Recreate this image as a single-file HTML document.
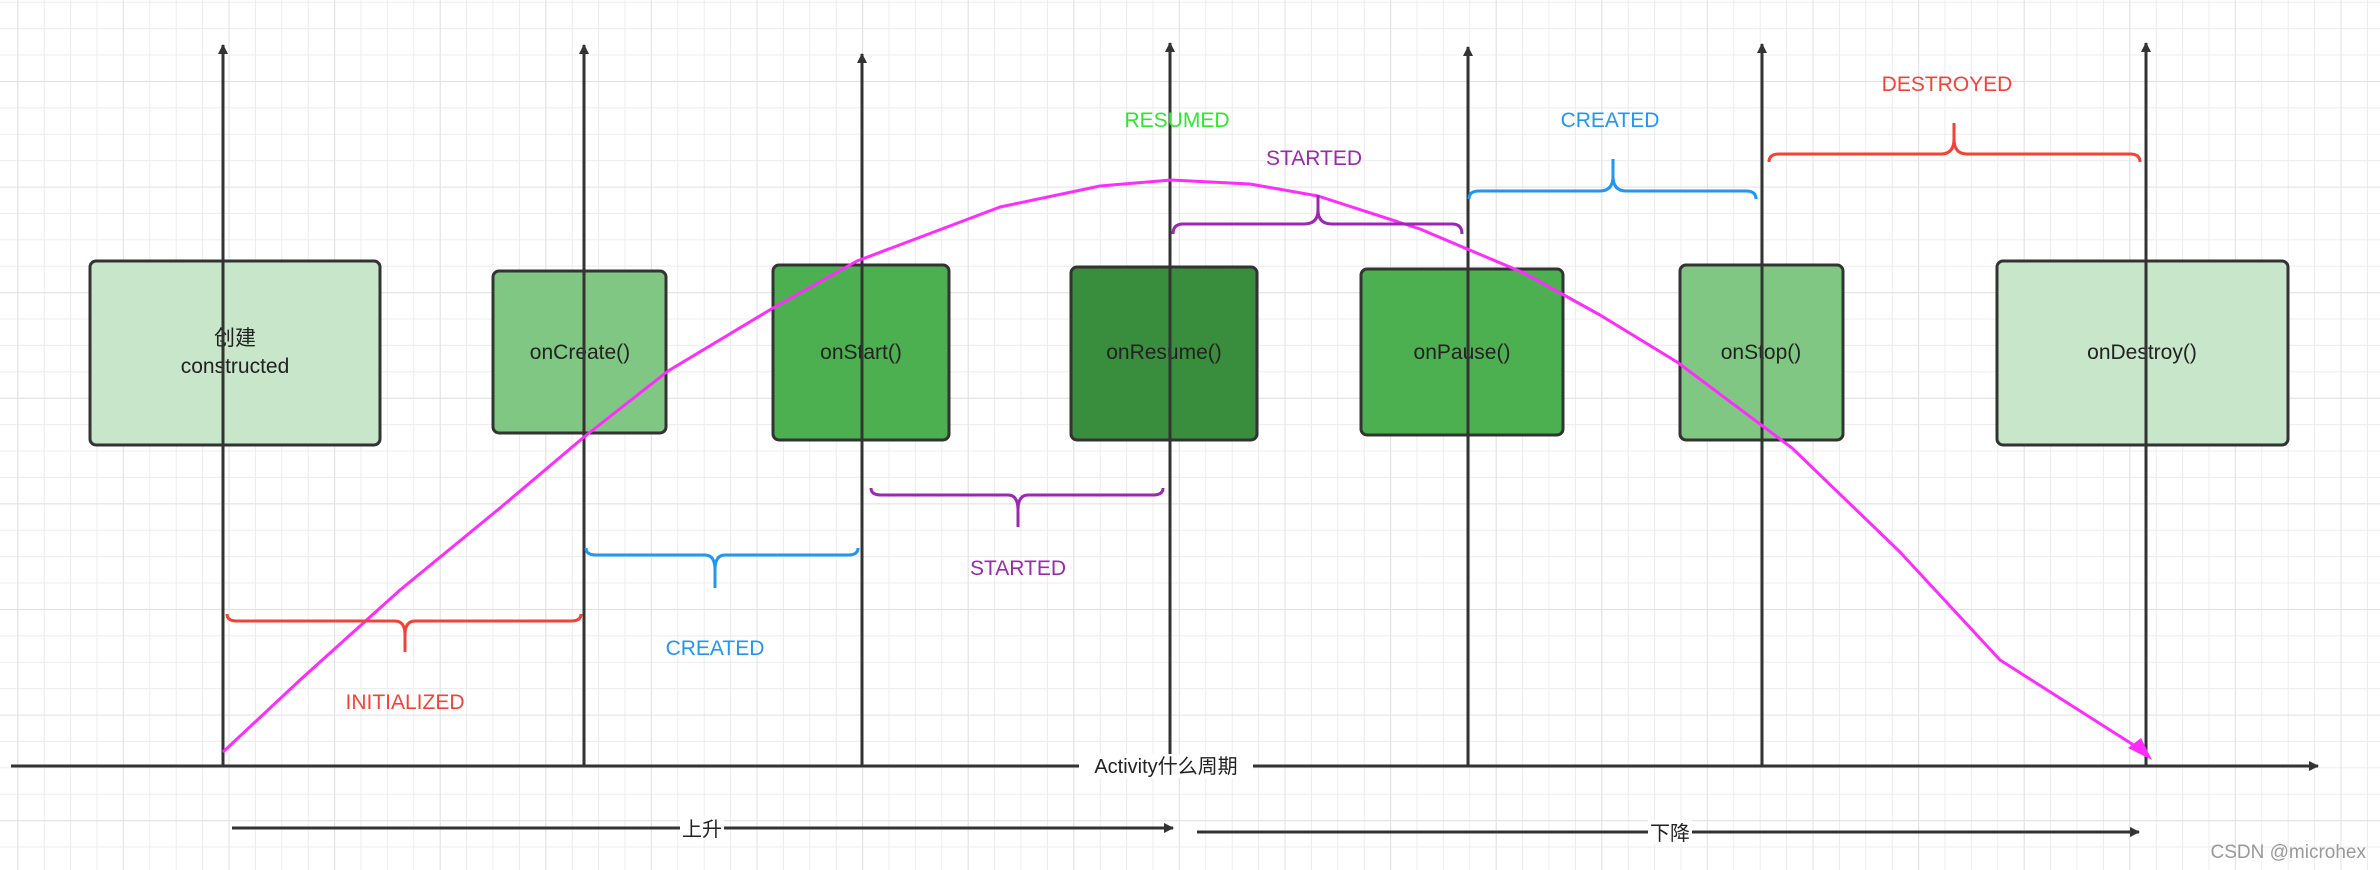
<!DOCTYPE html>
<html><head><meta charset="utf-8"><style>
html,body{margin:0;padding:0;background:#fff;}
svg{display:block}
text{font-family:"Liberation Sans","Noto Sans CJK SC",sans-serif;}
</style></head><body>
<svg width="2380" height="870" viewBox="0 0 2380 870" xmlns="http://www.w3.org/2000/svg">
<defs>
<pattern id="g" x="17.3" y="1.7" width="26.4" height="26.4" patternUnits="userSpaceOnUse">
<path d="M0,0V26.4M0,0H26.4" stroke="#ececec" stroke-width="2" fill="none"/>
</pattern>
<pattern id="G" x="122.9" y="81" width="105.6" height="105.6" patternUnits="userSpaceOnUse">
<path d="M0,0V105.6M0,0H105.6" stroke="#e2e2e2" stroke-width="2" fill="none"/>
</pattern>
<marker id="ah" markerWidth="10" markerHeight="10" refX="9" refY="5" orient="auto" markerUnits="userSpaceOnUse" viewBox="0 0 10 10">
<path d="M0,0L10,5L0,10z" fill="#333"/>
</marker>
</defs>
<rect width="2380" height="870" fill="#fff"/>
<rect width="2380" height="870" fill="url(#g)"/>
<rect width="2380" height="870" fill="url(#G)"/>

<!-- boxes -->
<g stroke="#333" stroke-width="3">
<rect x="90" y="261" width="290" height="184" rx="6" fill="#c8e6c9"/>
<rect x="493" y="271" width="173" height="162" rx="6" fill="#81c784"/>
<rect x="773" y="265" width="176" height="175" rx="6" fill="#4caf50"/>
<rect x="1071" y="267" width="186" height="173" rx="6" fill="#388e3c"/>
<rect x="1361" y="269" width="202" height="166" rx="6" fill="#4caf50"/>
<rect x="1680" y="265" width="163" height="175" rx="6" fill="#81c784"/>
<rect x="1997" y="261" width="291" height="184" rx="6" fill="#c8e6c9"/>
</g>
<g font-size="21" fill="#222" text-anchor="middle">
<text x="235" y="345">创建</text>
<text x="235" y="373">constructed</text>
<text x="580" y="359">onCreate()</text>
<text x="861" y="359">onStart()</text>
<text x="1164" y="359">onResume()</text>
<text x="1462" y="359">onPause()</text>
<text x="1761" y="359">onStop()</text>
<text x="2142" y="359">onDestroy()</text>
</g>

<!-- vertical lines -->
<g stroke="#333" stroke-width="3" marker-end="url(#ah)">
<line x1="223" y1="766" x2="223" y2="45"/>
<line x1="584" y1="766" x2="584" y2="45"/>
<line x1="862" y1="766" x2="862" y2="54"/>
<line x1="1170" y1="766" x2="1170" y2="43"/>
<line x1="1468" y1="766" x2="1468" y2="47"/>
<line x1="1762" y1="766" x2="1762" y2="44"/>
<line x1="2146" y1="766" x2="2146" y2="43"/>
</g>

<!-- magenta curve -->
<polyline fill="none" stroke="#ff2bff" stroke-width="3" stroke-linejoin="round" points="223,752 300,680 400,590 500,508 584,437 668,371 773,308 857,261 1000,207 1100,186 1171,180 1250,184 1318,196 1420,229 1524,273 1600,315 1677,362 1792,448 1900,552 2000,660 2143,751"/>
<path d="M2152,760 L2128,748 L2141,738 z" fill="#ff2bff"/>

<!-- braces -->
<g fill="none" stroke-width="3">
<path stroke="#f44336" d="M227,614 Q227,621 237,621 L395,621 Q405,621 405,635 L405,652 M405,635 Q405,621 415,621 L571,621 Q581,621 581,614"/>
<path stroke="#2196f3" d="M586,548 Q586,555 596,555 L705,555 Q715,555 715,570 L715,588 M715,570 Q715,555 725,555 L848,555 Q858,555 858,548"/>
<path stroke="#9c27b0" d="M871,488 Q871,495 881,495 L1008,495 Q1018,495 1018,510 L1018,527 M1018,510 Q1018,495 1028,495 L1153,495 Q1163,495 1163,488"/>
<path stroke="#9c27b0" d="M1173,234 Q1173,224 1183,224 L1304,224 Q1318,224 1318,210 L1318,195 M1318,210 Q1318,224 1332,224 L1452,224 Q1462,224 1462,234"/>
<path stroke="#2196f3" d="M1469,199 Q1469,191 1479,191 L1600,191 Q1613,191 1613,176 L1613,159 M1613,176 Q1613,191 1626,191 L1746,191 Q1756,191 1756,199"/>
<path stroke="#f44336" d="M1769,162 Q1769,154 1779,154 L1941,154 Q1954,154 1954,139 L1954,123 M1954,139 Q1954,154 1967,154 L2130,154 Q2140,154 2140,162"/>
</g>
<g font-size="21" text-anchor="middle">
<text x="405" y="709" fill="#f44336">INITIALIZED</text>
<text x="715" y="655" fill="#2196f3">CREATED</text>
<text x="1018" y="575" fill="#9c27b0">STARTED</text>
<text x="1177" y="127" fill="#2ee82e">RESUMED</text>
<text x="1314" y="165" fill="#9c27b0">STARTED</text>
<text x="1610" y="127" fill="#2196f3">CREATED</text>
<text x="1947" y="91" fill="#f44336">DESTROYED</text>
</g>

<!-- axis -->
<line x1="11" y1="766" x2="2318" y2="766" stroke="#333" stroke-width="3" marker-end="url(#ah)"/>
<rect x="1079" y="754" width="174" height="24" fill="#fff"/>
<text x="1166" y="773" font-size="20" fill="#222" text-anchor="middle">Activity什么周期</text>

<line x1="232" y1="828" x2="1173" y2="828" stroke="#333" stroke-width="3" marker-end="url(#ah)"/>
<rect x="680" y="816" width="44" height="24" fill="#fff"/>
<text x="702" y="836" font-size="20" fill="#222" text-anchor="middle">上升</text>
<line x1="1197" y1="832" x2="2139" y2="832" stroke="#333" stroke-width="3" marker-end="url(#ah)"/>
<rect x="1648" y="820" width="44" height="24" fill="#fff"/>
<text x="1670" y="840" font-size="20" fill="#222" text-anchor="middle">下降</text>

<text x="2366" y="858" font-size="19" fill="#999" text-anchor="end">CSDN @microhex</text>
</svg>
</body></html>
